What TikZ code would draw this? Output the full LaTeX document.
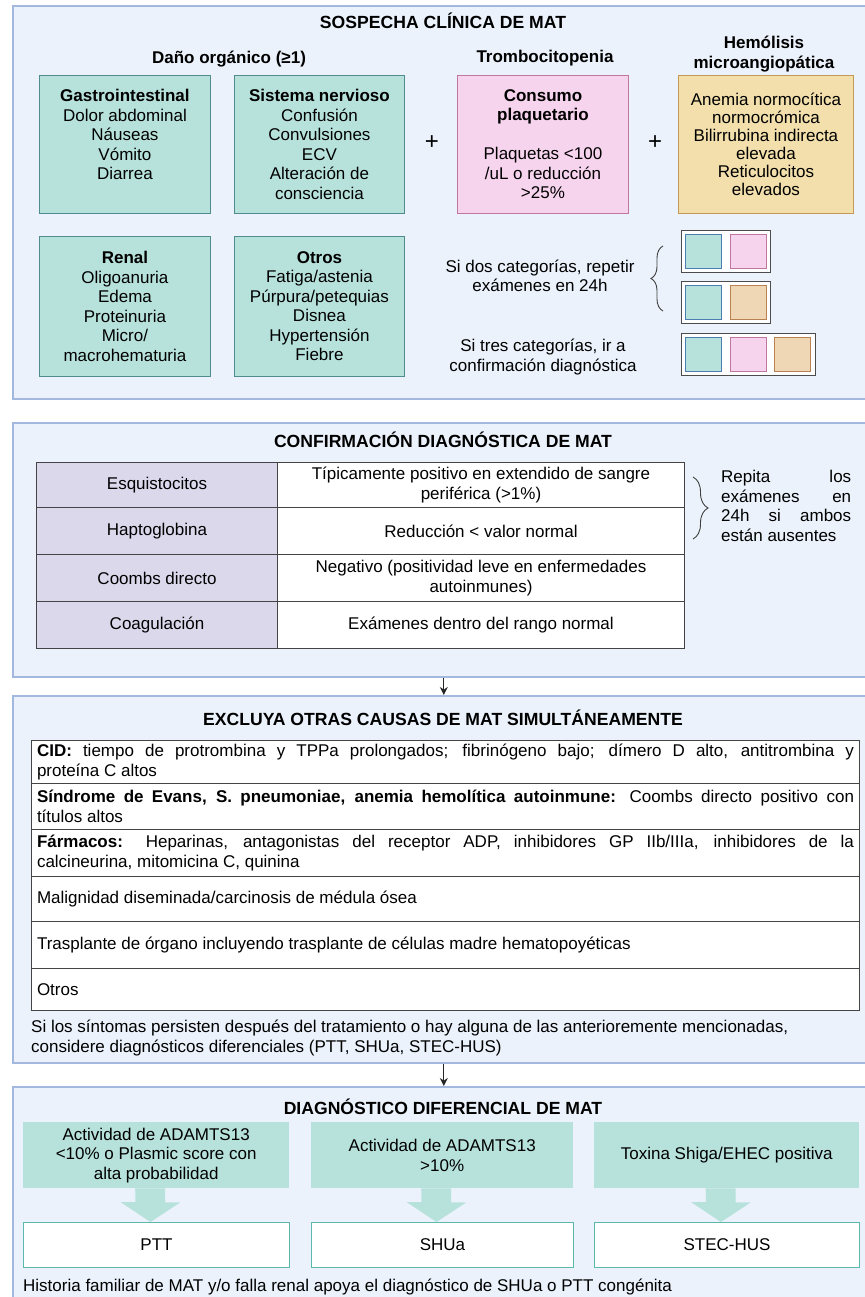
\documentclass[tikz,border=0pt]{standalone}
\usepackage{fontspec}
\setmainfont{Liberation Sans}
\usetikzlibrary{calc,decorations.pathreplacing,arrows.meta}
\definecolor{secfill}{HTML}{EBF2FB}
\definecolor{secdraw}{HTML}{A3B8DF}
\definecolor{tealfill}{HTML}{B7E2DC}
\definecolor{tealdraw}{HTML}{4F8B8F}
\definecolor{pinkfill}{HTML}{F7D4EE}
\definecolor{pinkdraw}{HTML}{C0779F}
\definecolor{tanfill}{HTML}{F2DFAB}
\definecolor{tandraw}{HTML}{C39A55}
\definecolor{stanfill}{HTML}{EFD7B6}
\definecolor{standraw}{HTML}{B98250}
\definecolor{stealdraw}{HTML}{4B7DB0}
\definecolor{lavfill}{HTML}{DCD8EC}
\definecolor{tabdraw}{HTML}{444444}
\definecolor{outdraw}{HTML}{5CB8AA}
\begin{document}
\begin{tikzpicture}[x=1pt,y=-1pt]
\tikzset{
  sec/.style={draw=secdraw, fill=secfill, line width=1.6pt, anchor=north west, inner sep=0pt},
  ttl/.style={inner sep=0pt, font=\fontsize{17.6}{20}\selectfont\bfseries},
  txt/.style={align=center, inner sep=0pt, font=\fontsize{17}{19.5}\selectfont},
  hdr/.style={align=center, inner sep=0pt, font=\fontsize{17}{20}\selectfont\bfseries},
  tbox/.style={draw=tealdraw, fill=tealfill, line width=0.9pt, anchor=north west, inner sep=0pt},
  pbox/.style={draw=pinkdraw, fill=pinkfill, line width=0.9pt, anchor=north west, inner sep=0pt},
  hbox/.style={draw=tandraw, fill=tanfill, line width=0.9pt, anchor=north west, inner sep=0pt},
  sbox/.style={draw=black!70, fill=white, line width=1pt, anchor=north west, inner sep=0pt},
  sq/.style={line width=0.9pt, anchor=north west, inner sep=0pt, minimum width=36pt, minimum height=34pt},
  lcell/.style={draw=tabdraw, fill=lavfill, line width=1pt, anchor=north west, align=center, inner sep=0pt, font=\fontsize{17}{19.5}\selectfont},
  rcell/.style={draw=tabdraw, fill=white, line width=1pt, anchor=north west, align=center, inner sep=0pt, font=\fontsize{17}{19.5}\selectfont},
  exrow/.style={draw=tabdraw, fill=white, line width=1pt, anchor=north west, text width=817pt, inner xsep=5.5pt, inner ysep=0pt, align=justify, font=\fontsize{17}{20}\selectfont},
  dbox/.style={fill=tealfill, anchor=north west, inner sep=0pt, align=center, minimum height=66pt, font=\fontsize{17}{19.5}\selectfont},
  obox/.style={draw=outdraw, fill=white, line width=1pt, anchor=north west, inner sep=0pt, minimum height=45pt, font=\fontsize{17}{19.5}\selectfont},
  flow/.style={draw=black!85, line width=1.3pt, -{Stealth[length=8pt,width=8pt]}},
  brc/.style={draw=black!75, line width=0.9pt, decorate},
  blk/.style={fill=tealfill}
}
\useasboundingbox (0,0) rectangle (864,1297);
\fill[white] (0,0) rectangle (864,1297);

% ===== Section 1 =====
\node[sec, minimum width=856pt, minimum height=393pt] (s1) at (12,5) {};
\node[ttl] (t1) at (443,21) {SOSPECHA CLÍNICA DE MAT};
\node[hdr] (h1) at (229,59) {Daño orgánico (≥1)};
\node[hdr] (h2) at (545,58) {Trombocitopenia};
\node[hdr] (h3) at (764,54) {Hemólisis\\microangiopática};

\node[tbox, minimum width=171pt, minimum height=138pt] (gi) at (39,75) {};
\node[txt, anchor=north] (giT) at ($(gi.north)+(0,14)$) {\textbf{Gastrointestinal}\\Dolor abdominal\\Náuseas\\Vómito\\Diarrea};
\node[tbox, minimum width=170pt, minimum height=138pt] (sn) at (234,75) {};
\node[txt, anchor=north] (snT) at ($(sn.north)+(0,14)$) {\textbf{Sistema nervioso}\\Confusión\\Convulsiones\\ECV\\Alteración de\\consciencia};
\node[txt, font=\fontsize{24}{24}\selectfont] (p1) at (432,143) {+};
\node[pbox, minimum width=171pt, minimum height=138pt] (cp) at (457,75) {};
\node[txt, anchor=north] (cpT) at ($(cp.north)+(0,14)$) {\textbf{Consumo}\\\textbf{plaquetario}\\[19.5pt]Plaquetas <100\\/uL o reducción\\>25\%};
\node[txt, font=\fontsize{24}{24}\selectfont] (p2) at (655,143) {+};
\node[hbox, minimum width=175pt, minimum height=138pt, align=center, font=\fontsize{17}{18}\selectfont] (hm) at (678,75) {Anemia normocítica\\normocrómica\\Bilirrubina indirecta\\elevada\\Reticulocitos\\elevados};

\node[tbox, minimum width=171pt, minimum height=140pt] (rn) at (39,236) {};
\node[txt, anchor=north] (rnT) at ($(rn.north)+(0,15)$) {\textbf{Renal}\\Oligoanuria\\Edema\\Proteinuria\\Micro/\\macrohematuria};
\node[tbox, minimum width=170pt, minimum height=140pt] (ot) at (234,236) {};
\node[txt, anchor=north] (otT) at ($(ot.north)+(0,15)$) {\textbf{Otros}\\Fatiga/astenia\\Púrpura/petequias\\Disnea\\Hypertensión\\Fiebre};

\node[txt] (dos) at (540,276) {Si dos categorías, repetir\\exámenes en 24h};
\node[txt] (tres) at (543,357) {Si tres categorías, ir a\\confirmación diagnóstica};

\node[sbox, minimum width=89pt, minimum height=42pt] (c1) at (681,230) {};
\node[sq, fill=tealfill, draw=stealdraw] (c1a) at (685,234) {};
\node[sq, fill=pinkfill, draw=pinkdraw] (c1b) at (730,234) {};
\node[sbox, minimum width=89pt, minimum height=42pt] (c2) at (681,281) {};
\node[sq, fill=tealfill, draw=stealdraw] (c2a) at (685,285) {};
\node[sq, fill=stanfill, draw=standraw] (c2b) at (730,285) {};
\node[sbox, minimum width=134pt, minimum height=42pt] (c3) at (681,333) {};
\node[sq, fill=tealfill, draw=stealdraw] (c3a) at (685,337) {};
\node[sq, fill=pinkfill, draw=pinkdraw] (c3b) at (730,337) {};
\node[sq, fill=stanfill, draw=standraw] (c3c) at (774,337) {};
\coordinate (b1top) at (663,246);
\coordinate (b1bot) at (663,311);
\draw[brc, decoration={brace, amplitude=12pt}] (b1bot) -- (b1top);

% ===== Section 2 =====
\node[sec, minimum width=856pt, minimum height=254pt] (s2) at (12,422) {};
\node[ttl] (t2) at (443,440) {CONFIRMACIÓN DIAGNÓSTICA DE MAT};
\node[lcell, minimum width=241pt, minimum height=45pt] (l1) at (36,462) {Esquistocitos};
\node[rcell, minimum width=407pt, minimum height=45pt] (r1) at (277,462) {Típicamente positivo en extendido de sangre\\periférica (>1\%)};
\node[lcell, minimum width=241pt, minimum height=47pt] (l2) at (36,507) {Haptoglobina};
\node[rcell, minimum width=407pt, minimum height=47pt] (r2) at (277,507) {Reducción < valor normal};
\node[lcell, minimum width=241pt, minimum height=47pt] (l3) at (36,554) {Coombs directo};
\node[rcell, minimum width=407pt, minimum height=47pt] (r3) at (277,554) {Negativo (positividad leve en enfermedades\\autoinmunes)};
\node[lcell, minimum width=241pt, minimum height=47pt] (l4) at (36,601) {Coagulación};
\node[rcell, minimum width=407pt, minimum height=47pt] (r4) at (277,601) {Exámenes dentro del rango normal};
\coordinate (b2top) at (693,477);
\coordinate (b2bot) at (693,539);
\draw[brc, decoration={brace, amplitude=15pt}] (b2top) -- (b2bot);
\node[txt, anchor=north west, text width=130pt, align=justify] (rep) at (721,470) {Repita los\linebreak exámenes en\linebreak 24h si ambos\linebreak están ausentes};

% ===== Section 3 =====
\node[sec, minimum width=856pt, minimum height=367pt] (s3) at (12,695) {};
\node[ttl] (t3) at (443,718) {EXCLUYA OTRAS CAUSAS DE MAT SIMULTÁNEAMENTE};
\node[exrow, minimum height=43pt] (x1) at (31,740) {\textbf{CID:} tiempo de protrombina y TPPa prolongados; fibrinógeno bajo; dímero D alto, antitrombina y\linebreak proteína C altos};
\node[exrow, minimum height=46pt] (x2) at (31,783) {\textbf{Síndrome de Evans, S. pneumoniae, anemia hemolítica autoinmune:} Coombs directo positivo con\linebreak títulos altos};
\node[exrow, minimum height=47pt] (x3) at (31,829) {\textbf{Fármacos:} Heparinas, antagonistas del receptor ADP, inhibidores GP IIb/IIIa, inhibidores de la\linebreak calcineurina, mitomicina C, quinina};
\node[exrow, minimum height=45pt] (x4) at (31,876) {Malignidad diseminada/carcinosis de médula ósea};
\node[exrow, minimum height=47pt] (x5) at (31,921) {Trasplante de órgano incluyendo trasplante de células madre hematopoyéticas};
\node[exrow, minimum height=42pt] (x6) at (31,968) {Otros};
\node[txt, anchor=north west, align=left] (xn) at (31,1020) {Si los síntomas persisten después del tratamiento o hay alguna de las anterioremente mencionadas,\\considere diagnósticos diferenciales (PTT, SHUa, STEC-HUS)};

% ===== Section 4 =====
\node[sec, minimum width=856pt, minimum height=230pt] (s4) at (12,1086) {};
\node[ttl] (t4) at (443,1107) {DIAGNÓSTICO DIFERENCIAL DE MAT};
\node[dbox, minimum width=266pt] (d1) at (23,1122) {Actividad de ADAMTS13\\<10\% o Plasmic score con\\alta probabilidad};
\node[dbox, minimum width=262pt] (d2) at (311,1122) {Actividad de ADAMTS13\\>10\%};
\node[dbox, minimum width=265pt] (d3) at (594,1122) {Toxina Shiga/EHEC positiva};
\node[obox, minimum width=266pt] (o1) at (23,1222) {PTT};
\node[obox, minimum width=262pt] (o2) at (311,1222) {SHUa};
\node[obox, minimum width=265pt] (o3) at (594,1222) {STEC-HUS};
\foreach \a/\b in {d1/o1,d2/o2,d3/o3}{
  \fill[blk] ($(\a.south)+(-21,0)$) -- ++(30,0) -- ++(0,14) -- ++(15,0) -- ($(\b.north)+(-6,0)$) -- ++(-30,-20) -- ++(15,0) -- cycle;
}
\node[txt, anchor=north west, align=left] (fn) at (23,1279) {Historia familiar de MAT y/o falla renal apoya el diagnóstico de SHUa o PTT congénita};

% ===== Flow arrows =====
\draw[flow] ([xshift=3pt]s2.south) -- ([xshift=3pt]s3.north);
\draw[flow] ([xshift=3pt]s3.south) -- ([xshift=3pt]s4.north);
\end{tikzpicture}
\end{document}
